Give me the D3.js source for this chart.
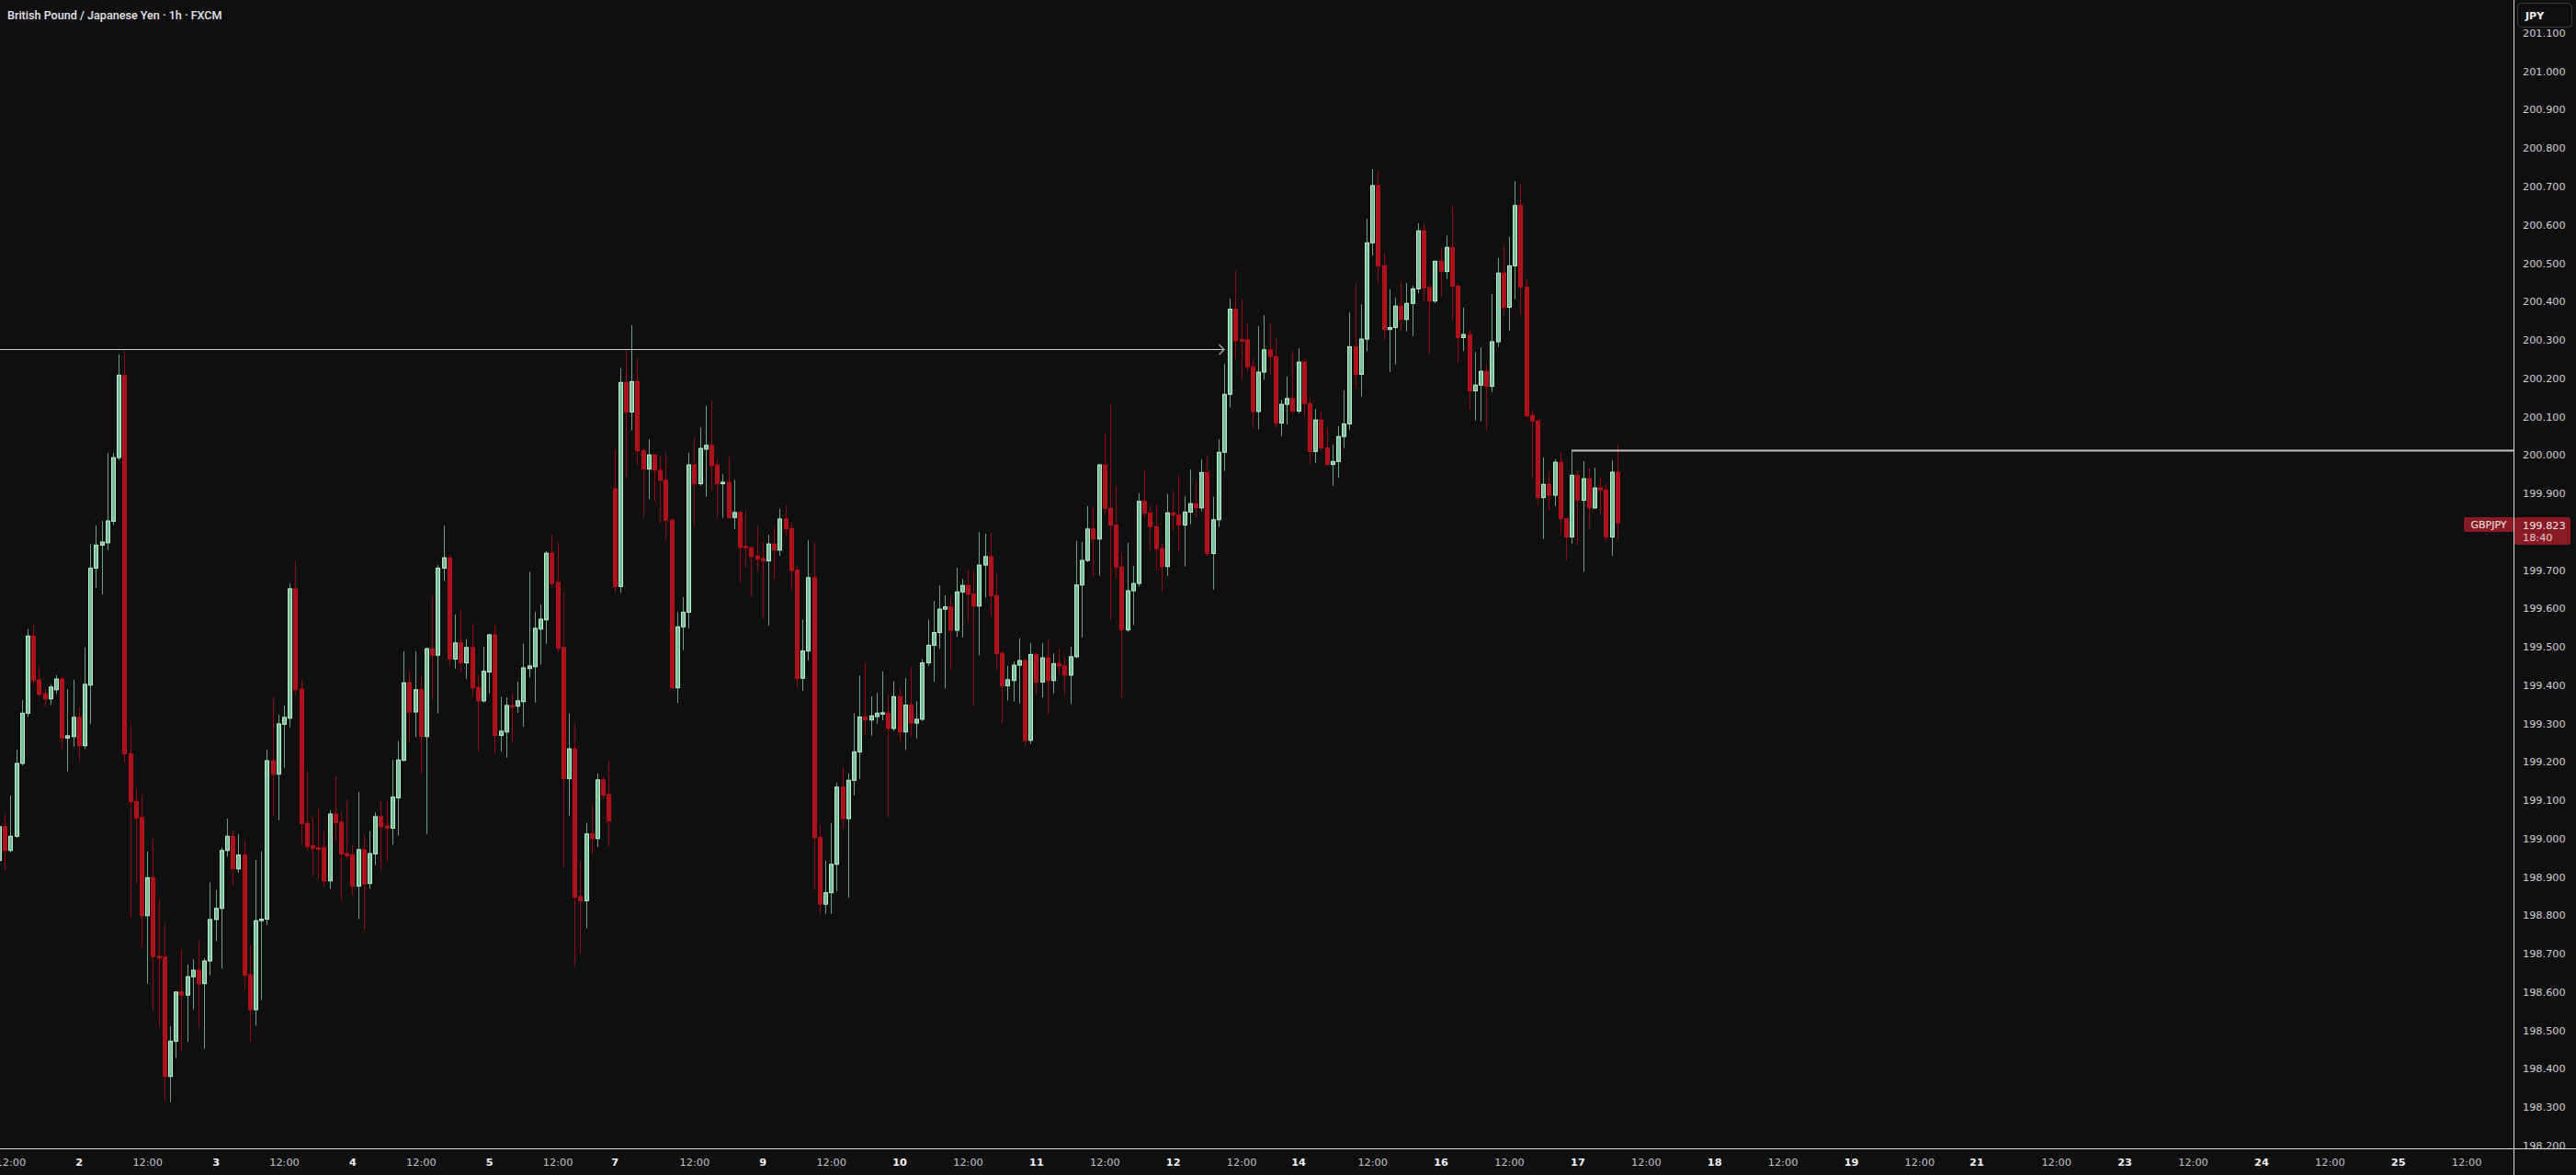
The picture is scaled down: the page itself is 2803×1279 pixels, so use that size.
<!DOCTYPE html>
<html><head><meta charset="utf-8">
<script src="https://cdn.jsdelivr.net/npm/d3@7"></script>
<style>html,body{margin:0;padding:0;background:#0f0f0f;overflow:hidden}</style>
</head><body>
<svg id="chart" width="2803" height="1279"></svg>
<script>
// ---- DATA ----
const title = "British Pound / Japanese Yen · 1h · FXCM";
const currency = "JPY";
const symbol = "GBPJPY";
const lastPrice = 199.823;
const countdown = "18:40";
// bar index (trading hours since Mon 1 Sep 00:00) of the first candle
const firstBar = 10;
const opens = [
198.943,199.031,198.969,199.006,199.196,199.327,199.528,199.414,199.378,199.364,
199.388,199.416,199.262,199.266,199.316,199.242,199.400,199.705,199.765,199.771,
199.827,199.993,200.208,199.221,199.097,199.055,198.799,198.898,198.693,198.691,
198.380,198.472,198.600,198.592,198.640,198.657,198.622,198.681,198.789,198.818,
198.969,199.006,198.921,198.957,198.645,198.554,198.786,198.790,199.203,199.168,
199.298,199.314,199.651,199.390,199.040,198.981,198.976,198.976,198.890,199.064,
199.043,198.961,198.957,198.876,198.971,198.883,198.960,199.057,199.033,199.027,
199.106,199.204,199.406,199.330,199.388,199.266,199.495,199.478,199.705,199.732,
199.468,199.510,199.458,199.498,199.394,199.359,199.434,199.531,199.269,199.278,
199.347,199.345,199.357,199.443,199.448,199.546,199.570,199.744,199.668,199.498,
199.156,199.234,198.849,198.838,199.012,199.000,199.153,199.115,199.912,199.657,
200.189,200.112,200.191,200.011,199.963,200.000,199.960,199.934,199.830,199.393,
199.552,199.590,199.974,199.925,200.015,200.025,199.974,199.925,199.929,199.837,
199.850,199.762,199.758,199.737,199.730,199.724,199.768,199.752,199.833,199.808,
199.700,199.418,199.489,199.680,199.003,198.829,198.859,198.933,199.134,199.052,
199.152,199.226,199.317,199.309,199.318,199.327,199.327,199.287,199.370,199.278,
199.348,199.301,199.311,199.458,199.504,199.537,199.598,199.604,199.543,199.643,
199.660,199.637,199.606,199.713,199.735,199.634,199.483,199.398,199.412,199.452,
199.464,199.256,199.480,199.408,199.471,199.412,199.456,199.450,199.426,199.474,
199.661,199.725,199.807,199.781,199.974,199.861,199.817,199.708,199.544,199.646,
199.665,199.879,199.849,199.813,199.756,199.709,199.849,199.843,199.817,199.851,
199.873,199.862,199.954,199.743,199.831,200.007,200.158,200.380,200.300,200.300,
200.230,200.113,200.216,200.274,200.256,200.083,200.132,200.147,200.114,200.242,
200.134,200.009,200.091,200.018,199.975,199.983,200.048,200.081,200.282,200.210,
200.302,200.553,200.702,200.493,200.327,200.332,200.388,200.353,200.395,200.433,
200.584,200.436,200.401,200.505,200.478,200.541,200.440,200.306,200.314,200.167,
200.182,200.218,200.179,200.295,200.474,200.385,200.493,200.650,200.437,200.103,
200.088,199.889,199.923,199.895,199.981,199.834,199.786,199.947,199.882,199.938,
199.862,199.914,199.909,199.786,199.955];
const highs = [
199.038,199.065,199.112,199.232,199.361,199.546,199.558,199.448,199.390,199.402,
199.426,199.421,199.390,199.414,199.342,199.498,199.768,199.816,199.828,200.005,
200.005,200.262,200.269,199.296,199.129,199.114,198.966,199.001,198.842,198.779,
198.511,198.602,198.710,198.672,198.686,198.736,198.688,198.886,198.866,198.977,
199.052,199.022,199.012,198.995,198.721,198.945,198.967,199.232,199.371,199.323,
199.347,199.665,199.723,199.414,199.176,199.055,199.079,199.019,199.074,199.163,
199.071,199.103,198.983,199.122,199.009,199.019,199.068,199.098,199.098,199.205,
199.254,199.488,199.436,199.488,199.424,199.498,199.632,199.713,199.816,199.741,
199.584,199.594,199.520,199.560,199.426,199.500,199.534,199.555,199.370,199.368,
199.378,199.409,199.508,199.695,199.591,199.610,199.749,199.792,199.771,199.639,
199.326,199.300,198.941,199.041,199.089,199.170,199.161,199.203,200.013,200.226,
200.272,200.338,200.252,200.016,200.041,200.002,199.998,200.006,199.835,199.590,
199.629,200.006,200.045,200.072,200.128,200.142,199.987,199.950,199.996,199.934,
199.852,199.855,199.764,199.816,199.773,199.792,199.810,199.860,199.870,199.824,
199.709,199.571,199.778,199.772,199.034,198.942,199.041,199.145,199.186,199.169,
199.327,199.425,199.457,199.371,199.380,199.436,199.375,199.410,199.392,199.418,
199.448,199.358,199.468,199.571,199.619,199.660,199.634,199.630,199.706,199.677,
199.700,199.699,199.799,199.795,199.797,199.692,199.490,199.450,199.462,199.522,
199.470,199.510,199.483,199.510,199.518,199.483,199.495,199.474,199.500,199.776,
199.773,199.867,199.865,199.977,200.057,200.132,199.919,199.745,199.771,199.711,
199.900,199.961,199.867,199.871,199.769,199.898,199.905,199.946,199.893,199.962,
199.935,199.989,199.998,199.891,200.041,200.238,200.408,200.480,200.404,200.345,
200.250,200.336,200.364,200.344,200.306,200.144,200.204,200.270,200.278,200.252,
200.151,200.120,200.115,200.072,200.027,200.075,200.168,200.372,200.448,200.393,
200.615,200.745,200.739,200.527,200.432,200.410,200.451,200.448,200.441,200.604,
200.604,200.444,200.506,200.540,200.572,200.647,200.444,200.384,200.326,200.268,
200.280,200.235,200.420,200.513,200.547,200.568,200.714,200.705,200.458,200.116,
200.096,199.993,199.957,199.989,200.006,199.835,200.011,199.957,199.984,199.966,
199.967,199.941,199.925,199.986,200.027];
const lows = [
198.935,198.917,198.964,199.002,199.191,199.317,199.402,199.371,199.342,199.348,
199.378,199.233,199.175,199.240,199.204,199.234,199.298,199.653,199.637,199.752,
199.817,199.986,199.198,198.795,198.881,198.718,198.622,198.552,198.510,198.318,
198.313,198.428,198.444,198.470,198.555,198.506,198.452,198.644,198.732,198.661,
198.953,198.878,198.911,198.608,198.470,198.512,198.579,198.775,199.060,199.048,
199.184,199.290,199.373,198.985,198.967,198.902,198.895,198.874,198.869,198.993,
198.839,198.946,198.851,198.790,198.760,198.869,198.931,198.917,198.941,198.984,
199.008,199.201,199.252,199.264,199.170,199.012,199.362,199.326,199.671,199.450,
199.443,199.434,199.416,199.378,199.228,199.354,199.378,199.220,199.227,199.211,
199.249,199.328,199.292,199.420,199.354,199.454,199.508,199.652,199.486,198.926,
199.060,198.668,198.699,198.766,198.960,198.978,199.103,198.979,199.641,199.641,
199.941,200.064,199.974,199.837,199.885,199.879,199.819,199.778,199.390,199.353,
199.491,199.548,199.814,199.919,199.891,199.908,199.836,199.836,199.833,199.806,
199.668,199.706,199.629,199.697,199.574,199.555,199.677,199.737,199.788,199.647,
199.393,199.385,199.465,198.866,198.803,198.804,198.804,198.863,199.026,198.846,
199.112,199.155,199.272,199.268,199.299,199.308,199.054,199.280,199.255,199.231,
199.267,199.261,199.306,199.450,199.409,199.495,199.391,199.440,199.526,199.524,
199.563,199.348,199.478,199.628,199.580,199.440,199.301,199.360,199.357,199.352,
199.242,199.246,199.376,199.368,199.324,199.378,199.428,199.374,199.350,199.470,
199.524,199.721,199.683,199.685,199.845,199.570,199.679,199.368,199.539,199.556,
199.657,199.836,199.751,199.697,199.646,199.685,199.803,199.751,199.709,199.819,
199.837,199.853,199.737,199.649,199.812,199.958,200.124,200.250,200.196,200.216,
200.071,200.067,200.196,200.210,200.071,200.049,200.080,200.107,200.108,200.102,
199.975,199.979,200.011,199.972,199.919,199.941,200.018,200.066,200.176,200.152,
200.270,200.520,200.447,200.300,200.216,200.236,200.324,200.322,200.310,200.421,
200.401,200.260,200.396,200.413,200.459,200.351,200.240,200.271,200.118,200.090,
200.088,200.064,200.164,200.282,200.364,200.324,200.406,200.365,200.098,199.939,
199.869,199.781,199.855,199.867,199.799,199.724,199.769,199.763,199.695,199.805,
199.859,199.845,199.775,199.737,199.779];
const closes = [
199.031,198.969,199.006,199.196,199.327,199.528,199.412,199.376,199.364,199.395,
199.416,199.262,199.268,199.316,199.242,199.402,199.705,199.765,199.773,199.828,
199.993,200.208,199.221,199.096,199.053,198.799,198.898,198.692,198.689,198.380,
198.472,198.600,198.592,198.640,198.657,198.622,198.681,198.789,198.818,198.969,
199.006,198.921,198.957,198.644,198.554,198.786,198.790,199.203,199.168,199.299,
199.316,199.651,199.388,199.039,198.979,198.974,198.974,198.890,199.064,199.041,
198.960,198.955,198.876,198.971,198.882,198.961,199.057,199.031,199.027,199.108,
199.205,199.406,199.330,199.388,199.266,199.495,199.478,199.705,199.732,199.468,
199.510,199.458,199.498,199.393,199.359,199.436,199.531,199.269,199.280,199.347,
199.345,199.359,199.445,199.450,199.548,199.572,199.744,199.665,199.496,199.156,
199.234,198.847,198.838,199.012,199.000,199.153,199.113,199.046,199.657,200.189,
200.112,200.191,200.011,199.963,200.000,199.960,199.934,199.830,199.393,199.552,
199.590,199.974,199.925,200.017,200.025,199.972,199.925,199.929,199.837,199.850,
199.759,199.759,199.735,199.728,199.724,199.768,199.752,199.833,199.807,199.699,
199.418,199.489,199.680,199.002,198.829,198.859,198.933,199.134,199.052,199.152,
199.226,199.317,199.309,199.320,199.327,199.328,199.287,199.370,199.278,199.348,
199.301,199.311,199.458,199.504,199.537,199.598,199.604,199.543,199.643,199.660,
199.637,199.606,199.713,199.735,199.633,199.482,199.398,199.414,199.452,199.464,
199.256,199.480,199.408,199.471,199.412,199.456,199.450,199.426,199.474,199.661,
199.725,199.807,199.781,199.974,199.861,199.817,199.708,199.544,199.646,199.665,
199.879,199.849,199.813,199.756,199.709,199.849,199.843,199.817,199.851,199.873,
199.862,199.954,199.743,199.831,200.007,200.158,200.380,200.298,200.298,200.230,
200.113,200.216,200.274,200.256,200.083,200.132,200.147,200.114,200.242,200.134,
200.009,200.091,200.018,199.975,199.983,200.048,200.081,200.282,200.210,200.302,
200.553,200.702,200.493,200.327,200.332,200.388,200.353,200.395,200.433,200.584,
200.436,200.401,200.505,200.478,200.541,200.440,200.306,200.314,200.167,200.182,
200.218,200.179,200.295,200.474,200.385,200.493,200.650,200.437,200.102,200.088,
199.889,199.923,199.895,199.981,199.834,199.786,199.947,199.882,199.938,199.862,
199.914,199.909,199.786,199.955,199.823];

// price ticks shown on the right scale (199.800 is hidden behind the last-price label)
const priceTicks = [198.2,198.3,198.4,198.5,198.6,198.7,198.8,198.9,199.0,199.1,199.2,199.3,199.4,199.5,
  199.6,199.7,199.9,200.0,200.1,200.2,200.3,200.4,200.5,200.6,200.7,200.8,200.9,201.0,201.1];
const timeTickBars = [12,24,36,48,60,72,84,96,108,118,132,144,156,168,180,192,204,216,228,238,251,263,275,287,
  299,311,323,335,347,357,371,383,395,407,419,431,443];
const timeTickLabels = ["12:00","2","12:00","3","12:00","4","12:00","5","12:00","7","12:00","9","12:00","10",
  "12:00","11","12:00","12","12:00","14","12:00","16","12:00","17","12:00","18","12:00","19","12:00","21",
  "12:00","23","12:00","24","12:00","25","12:00"];

// drawings
const arrowLevel = 200.276;   // horizontal arrow line ending at bar
const arrowEndBar = 225;
const rayStartBar = 286;      // horizontal ray from the high of this bar
const rayLevel = 200.011;

// ---- LAYOUT ----
const W = 2803, H = 1279;
const plotRight = 2735, plotBottom = 1250;
const barPitch = 6.2;
const leftBar = 63 / barPitch;          // bar index at x = 0
const rightBar = (plotRight + 63) / barPitch;

const svg = d3.select("#chart");
svg.append("rect").attr("width", W).attr("height", H).attr("fill", "#0f0f0f");

const x = d3.scaleLinear().domain([leftBar, rightBar]).range([0, plotRight]);
const y = d3.scaleLinear().domain([200, 201]).range([495.2, 77.6]);

const bars = opens.map((o, i) => ({
  bar: firstBar + i, o, h: highs[i], l: lows[i], c: closes[i]
}));

const defs = svg.append("defs");
defs.append("clipPath").attr("id", "plotClip").append("rect")
  .attr("x", 0).attr("y", 0).attr("width", plotRight).attr("height", plotBottom);
defs.append("clipPath").attr("id", "axisClip").append("rect")
  .attr("x", plotRight).attr("y", 0).attr("width", W - plotRight).attr("height", plotBottom);

const plot = svg.append("g").attr("clip-path", "url(#plotClip)");

const UP_FILL = "#7cbc97", UP_STROKE = "#b9efcf", UP_WICK = "#6c9f86";
const DN_FILL = "#a7141d", DN_STROKE = "#b8101a", DN_WICK = "#8e0c12";

const cx = d => Math.round(x(d.bar)) + 0.5;

plot.append("g").selectAll("line").data(bars).join("line")
  .attr("x1", cx).attr("x2", cx)
  .attr("y1", d => y(d.h)).attr("y2", d => y(d.l))
  .attr("stroke", d => d.c >= d.o ? UP_WICK : DN_WICK)
  .attr("stroke-width", 1);

plot.append("g").selectAll("rect").data(bars).join("rect")
  .attr("x", d => cx(d) - 2)
  .attr("width", 4)
  .attr("y", d => Math.min(y(d.o), y(d.c)))
  .attr("height", d => Math.max(1.5, Math.abs(y(d.o) - y(d.c))))
  .attr("fill", d => d.c >= d.o ? UP_FILL : DN_FILL)
  .attr("stroke", d => d.c >= d.o ? UP_STROKE : DN_STROKE)
  .attr("stroke-width", 1);

// arrow line
const ay = Math.round(y(arrowLevel)) + 0.5;
const ax = x(arrowEndBar);
plot.append("line").attr("x1", 0).attr("x2", ax).attr("y1", ay).attr("y2", ay)
  .attr("stroke", "#cfcfd4").attr("stroke-width", 1.2);
plot.append("path").attr("d", `M${ax - 5.5},${ay - 5.5}L${ax},${ay}L${ax - 5.5},${ay + 5.5}`)
  .attr("fill", "none").attr("stroke", "#9c9ca2").attr("stroke-width", 1.5);

// ray
const ry = y(rayLevel);
plot.append("line").attr("x1", x(rayStartBar)).attr("x2", plotRight).attr("y1", ry).attr("y2", ry)
  .attr("stroke", "#c4c4cc").attr("stroke-width", 2);

// ---- AXES ----
const fontAxis = "'DejaVu Sans', Verdana, sans-serif";

const yAxisWrap = svg.append("g").attr("clip-path", "url(#axisClip)");
const yAxisG = yAxisWrap.append("g").attr("transform", `translate(${plotRight},0)`)
  .call(d3.axisRight(y).tickValues(priceTicks).tickFormat(d3.format(".3f")).tickSize(0).tickPadding(10));
yAxisG.select(".domain").remove();
yAxisG.selectAll("text").attr("fill", "#cfcfcf").style("font-family", fontAxis).style("font-size", "11.3px");

const labelByBar = new Map(timeTickBars.map((b, i) => [b, timeTickLabels[i]]));
const xAxisG = svg.append("g").attr("transform", `translate(0,${plotBottom})`)
  .call(d3.axisBottom(x).tickValues(timeTickBars).tickFormat(b => labelByBar.get(b)).tickSize(0).tickPadding(11));
xAxisG.select(".domain").remove();
xAxisG.selectAll("text")
  .style("font-family", fontAxis).style("font-size", "11.3px")
  .attr("fill", b => labelByBar.get(b) === "12:00" ? "#c4c4c4" : "#f2f2f2")
  .style("font-weight", b => labelByBar.get(b) === "12:00" ? "normal" : "bold");

// frame lines
svg.append("line").attr("x1", plotRight + 0.5).attr("x2", plotRight + 0.5).attr("y1", 0).attr("y2", H)
  .attr("stroke", "#dcdcdc").attr("stroke-width", 1);
svg.append("line").attr("x1", 0).attr("x2", W).attr("y1", plotBottom + 0.5).attr("y2", plotBottom + 0.5)
  .attr("stroke", "#dcdcdc").attr("stroke-width", 1);

// currency box
svg.append("rect").attr("x", 2739.5).attr("y", 3.5).attr("width", 59).attr("height", 26).attr("rx", 4)
  .attr("fill", "#0f0f0f").attr("stroke", "#3c3c3c").attr("stroke-width", 1);
svg.append("text").attr("x", 2748).attr("y", 17).attr("dominant-baseline", "central")
  .attr("fill", "#f0f0f0").style("font-family", fontAxis).style("font-size", "11px").style("font-weight", "bold")
  .text(currency);

// last price label
const py = y(lastPrice);
svg.append("rect").attr("x", plotRight + 1).attr("y", py - 6).attr("width", 61).attr("height", 30).attr("rx", 3)
  .attr("fill", "#891a24");
svg.append("text").attr("x", 2745).attr("y", py + 3).attr("dominant-baseline", "central")
  .attr("fill", "#f4e8e8").style("font-family", fontAxis).style("font-size", "11.3px").text(d3.format(".3f")(lastPrice));
svg.append("text").attr("x", 2745).attr("y", py + 16).attr("dominant-baseline", "central")
  .attr("fill", "#e6c9cc").style("font-family", fontAxis).style("font-size", "11.3px").text(countdown);
svg.append("rect").attr("x", 2681).attr("y", py - 6).attr("width", 54).attr("height", 16).attr("rx", 2)
  .attr("fill", "#891a24");
svg.append("text").attr("x", 2708).attr("y", py + 2).attr("dominant-baseline", "central").attr("text-anchor", "middle")
  .attr("fill", "#f4e8e8").style("font-family", fontAxis).style("font-size", "11px").text(symbol);

// title
svg.append("text").attr("x", 8).attr("y", 16).attr("dominant-baseline", "central")
  .attr("fill", "#e4e4e4").style("font-family", "Roboto, 'Liberation Sans', sans-serif")
  .style("font-size", "12.6px").style("font-weight", "500").text(title);
</script>
</body></html>
